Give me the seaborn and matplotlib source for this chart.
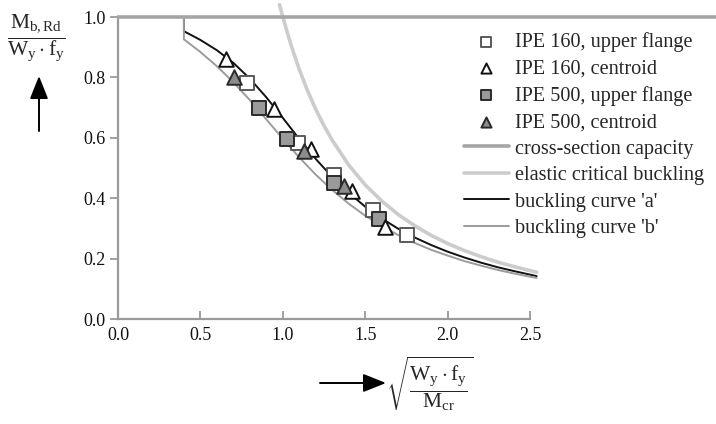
import matplotlib
matplotlib.use("Agg")
import matplotlib.pyplot as plt
import seaborn as sns
import pandas as pd

# ---------------- data ----------------
# test results (lambda_LT, M_b,Rd / (W_y f_y))
ipe160_flange_x = [0.785, 1.094, 1.311, 1.545, 1.756]
ipe160_flange_y = [0.782, 0.582, 0.477, 0.361, 0.277]
ipe160_centroid_x = [0.655, 0.949, 1.171, 1.418, 1.622]
ipe160_centroid_y = [0.860, 0.694, 0.562, 0.425, 0.306]
ipe500_flange_x = [0.856, 1.024, 1.309, 1.584]
ipe500_flange_y = [0.698, 0.596, 0.449, 0.331]
ipe500_centroid_x = [0.706, 1.129, 1.371]
ipe500_centroid_y = [0.802, 0.556, 0.441]

# cross-section capacity
cap_x = [0.0, 3.65]
cap_y = [1.0, 1.0]

# elastic critical buckling
elastic_x = [0.98, 1.00, 1.05, 1.10, 1.15, 1.20, 1.25, 1.30, 1.40, 1.50, 1.60, 1.70,
             1.80, 1.90, 2.00, 2.10, 2.20, 2.30, 2.40, 2.50, 2.54]
elastic_y = [1.041, 1.000, 0.907, 0.826, 0.756, 0.694, 0.640, 0.592, 0.510, 0.444,
             0.391, 0.346, 0.309, 0.277, 0.250, 0.227, 0.207, 0.189, 0.174, 0.160, 0.155]

# buckling curves
curve_x = [0.0, 0.40, 0.40, 0.50, 0.60, 0.70, 0.80, 0.90, 1.00, 1.10, 1.20, 1.30, 1.40,
           1.50, 1.60, 1.70, 1.80, 1.90, 2.00, 2.10, 2.20, 2.30, 2.40, 2.50, 2.54]
curve_a_y = [1.0, 1.0, 0.953, 0.924, 0.890, 0.848, 0.796, 0.734, 0.666, 0.596, 0.530,
             0.470, 0.418, 0.372, 0.333, 0.299, 0.270, 0.245, 0.223, 0.204, 0.187,
             0.172, 0.159, 0.147, 0.142]
curve_b_y = [1.0, 1.0, 0.926, 0.884, 0.837, 0.784, 0.725, 0.661, 0.597, 0.535, 0.478,
             0.427, 0.382, 0.342, 0.308, 0.278, 0.252, 0.229, 0.210, 0.192, 0.177,
             0.163, 0.151, 0.140, 0.136]

x_ticks = [0.0, 0.5, 1.0, 1.5, 2.0, 2.5]
y_ticks = [0.0, 0.2, 0.4, 0.6, 0.8, 1.0]

labels = ["IPE 160, upper flange", "IPE 160, centroid", "IPE 500, upper flange",
          "IPE 500, centroid", "cross-section capacity", "elastic critical buckling",
          "buckling curve 'a'", "buckling curve 'b'"]

# ---------------- style ----------------
sns.set_theme(style="white")
plt.rcParams["font.family"] = ["Liberation Serif", "DejaVu Serif"]
plt.rcParams["mathtext.fontset"] = "custom"
plt.rcParams["mathtext.rm"] = "Liberation Serif"
plt.rcParams["mathtext.it"] = "Liberation Serif"
plt.rcParams["mathtext.bf"] = "Liberation Serif:bold"

W, H = 716, 424
fig = plt.figure(figsize=(W / 100, H / 100), dpi=100)
ax = fig.add_axes([118 / W, 1 - 319 / H, (530 - 118) / W, (319 - 17) / H])

spine_col = "#9a9a9a"

def line(xs, ys, color, lw, label, clip=True, z=2):
    df = pd.DataFrame({"x": xs, "y": ys})
    sns.lineplot(data=df, x="x", y="y", ax=ax, color=color, lw=lw, label=label,
                 estimator=None, sort=False, zorder=z, clip_on=clip)

line(elastic_x, elastic_y, "#cccccc", 2.6, labels[5], clip=False, z=2)
line(curve_x, curve_a_y, "#111111", 1.4, labels[6], clip=False, z=3)
line(curve_x, curve_b_y, "#9c9c9c", 1.4, labels[7], clip=False, z=3)
line(cap_x, cap_y, "#a5a5a5", 2.6, labels[4], clip=False, z=4)

def pts(xs, ys, marker, face, edge, label, s):
    sns.scatterplot(x=xs, y=ys, ax=ax, marker=marker, s=s, color=face,
                    edgecolor=edge, linewidth=1.4, label=label, zorder=5, clip_on=False)

pts(ipe160_flange_x, ipe160_flange_y, "s", "white", "#5a5a5a", labels[0], 95)
pts(ipe500_flange_x, ipe500_flange_y, "s", "#9a9a9a", "#2a2a2a", labels[2], 95)
pts(ipe160_centroid_x, ipe160_centroid_y, "^", "white", "#111111", labels[1], 110)
pts(ipe500_centroid_x, ipe500_centroid_y, "^", "#8c8c8c", "#2a2a2a", labels[3], 110)

ax.set_xlim(0, 2.5)
ax.set_ylim(0, 1.0)
ax.set_xticks(x_ticks)
ax.set_xticklabels([f"{v:.1f}" for v in x_ticks])
ax.set_yticks(y_ticks)
ax.set_yticklabels([f"{v:.1f}" for v in y_ticks])
ax.set_xlabel("")
ax.set_ylabel("")
for side in ["top", "right"]:
    ax.spines[side].set_visible(False)
for side in ["left", "bottom"]:
    ax.spines[side].set_color(spine_col)
    ax.spines[side].set_linewidth(1.6)
ax.tick_params(axis="x", direction="in", length=6, width=1.3, color=spine_col,
               labelsize=13, pad=6, labelcolor="#111111", bottom=True)
ax.tick_params(axis="y", direction="out", length=6, width=1.3, color=spine_col,
               labelsize=13, pad=3, labelcolor="#111111", left=True)

# legend
h, l = ax.get_legend_handles_labels()
if ax.get_legend() is not None:
    ax.get_legend().remove()
hd = dict(zip(l, h))
leg = fig.legend([hd[k] for k in labels], labels, loc="upper left",
                 bbox_to_anchor=(464 / W, 1 - 32 / H), frameon=False, fontsize=14.6,
                 handlelength=2.2, handletextpad=0.3, labelspacing=0.36,
                 markerscale=0.7, borderaxespad=0, borderpad=0)

# axis titles
fig.text(36 / W, 1 - 38 / H,
         r"$\dfrac{\mathrm{M}_{\mathrm{b,Rd}}}{\mathrm{W}_{\mathrm{y}}\cdot\mathrm{f}_{\mathrm{y}}}$",
         ha="center", va="center", fontsize=15.5)
fig.text(430 / W, 1 - 384 / H,
         r"$\sqrt{\dfrac{\mathrm{W}_{\mathrm{y}}\cdot\mathrm{f}_{\mathrm{y}}}{\mathrm{M}_{\mathrm{cr}}}}$",
         ha="center", va="center", fontsize=15.5)

arrow = dict(arrowstyle="-|>,head_width=0.4,head_length=1.0", color="black", lw=1.4,
             mutation_scale=14, shrinkA=0, shrinkB=0)
ax.annotate("", xy=(39 / W, 1 - 76 / H), xytext=(39 / W, 1 - 131 / H),
            xycoords="figure fraction", textcoords="figure fraction", arrowprops=arrow)
ax.annotate("", xy=(386 / W, 1 - 383 / H), xytext=(320 / W, 1 - 383 / H),
            xycoords="figure fraction", textcoords="figure fraction", arrowprops=arrow)

fig.savefig("out.png", dpi=100)
